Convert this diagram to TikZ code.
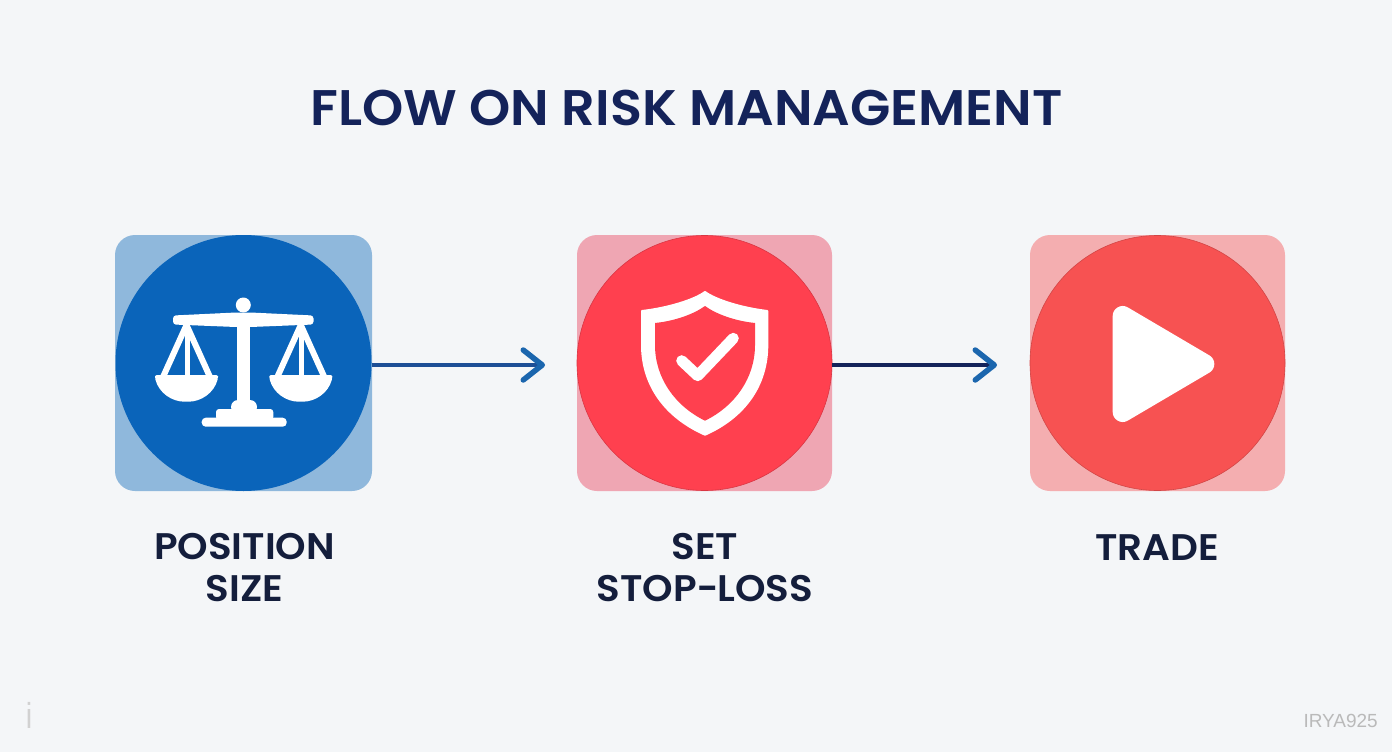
\documentclass[tikz,border=0pt]{standalone}
\usepackage{fontspec}
\usepackage{graphicx}
\usetikzlibrary{arrows.meta}
\setmainfont{Poppins SemiBold}[FakeStretch=1.05]
\newfontfamily\markfont{Liberation Sans}
\definecolor{bgcol}{HTML}{F4F6F8}
\definecolor{titlecol}{HTML}{14235A}
\definecolor{labelcol}{HTML}{141E3C}
\definecolor{sqblue}{HTML}{8FB8DC}
\definecolor{cblue}{HTML}{0A64BA}
\definecolor{sqrose}{HTML}{EFA6B3}
\definecolor{crose}{HTML}{FF404F}
\definecolor{sqcoral}{HTML}{F4AEB0}
\definecolor{ccoral}{HTML}{F75252}
\definecolor{tipcol}{HTML}{1B66AE}
\definecolor{lineone}{HTML}{1D4F96}
\tikzset{
  tile/.style={rectangle,rounded corners=20pt,minimum width=#1,minimum height=256pt,inner sep=0pt,outer sep=0pt},
  disc/.style={circle,minimum size=#1,inner sep=0pt,outer sep=0pt},
  caption/.style={anchor=base,align=center,inner sep=0pt,text=labelcol,font=\fontsize{37}{42}\selectfont},
  flow/.style={line width=4pt,-{Straight Barb[length=19pt,width=30pt,line width=5.5pt,round,color=tipcol]}},
  icon/.style={fill=white,draw=none},
  iconline/.style={draw=white,line cap=round,line join=round}
}
\begin{document}
\begin{tikzpicture}[x=1pt,y=-1pt]
\useasboundingbox (0,0) rectangle (1392,752);
\fill[bgcol] (0,0) rectangle (1392,752);
% title
\node[anchor=base,inner sep=0pt,text=titlecol,font=\fontsize{50}{50}\selectfont] (title) at (686.5,125.5) {FLOW ON RISK MANAGEMENT};
% tiles
\node[tile=257pt,fill=sqblue] (s1) at (243.5,363) {};
\node[disc=256pt,fill=cblue] (c1) at (243.5,363) {};
\node[tile=255pt,fill=sqrose] (s2) at (704.5,363) {};
\node[disc=255pt,fill=crose,draw=crose!85!black,line width=.6pt] (c2) at (704.5,363) {};
\node[tile=255pt,fill=sqcoral] (s3) at (1157.5,363) {};
\node[disc=255pt,fill=ccoral,draw=ccoral!85!black,line width=.6pt] (c3) at (1157.5,363) {};
% connectors
\coordinate (t1) at (545,365);
\coordinate (t2) at (997,365);
\draw[flow,color=lineone] (372,365) -- (t1);
\draw[flow,color=titlecol] (832,365) -- (t2);
% scales icon
\fill[icon] (243.3,305) circle (7.5pt);
\fill[icon,rounded corners=3pt] (173,315.5) -- (236,312.5) -- (250.5,312.5) -- (313.5,315.5) -- (313.5,324.5) -- (250.5,327) -- (236,327) -- (173,324.5) -- cycle;
\fill[icon] (236.7,325) rectangle (250,405);
\fill[icon,rounded corners=7pt] (231,400) rectangle (257,414);
\fill[icon,rounded corners=3pt] (216,409) rectangle (273.3,420);
\fill[icon,rounded corners=4pt] (201.7,417.7) rectangle (286.7,426.7);
\foreach \dx in {0,114.3}{
  \begin{scope}[xshift=\dx pt]
    \draw[iconline,line width=6pt] (163,377) -- (186.5,325) -- (210,377);
    \draw[iconline,line width=5pt,line cap=butt] (187,325) -- (187,377);
    \fill[icon,rounded corners=2pt] (155,375) -- (218,375) -- (218,378) .. controls (214,393) and (201,401.7) .. (186.5,401.7) .. controls (172,401.7) and (159,393) .. (155,378) -- cycle;
  \end{scope}
}
% shield icon
\filldraw[iconline,fill=white,line width=2pt] (705,292) .. controls (694,300) and (668,308) .. (642,311)
  -- (642,345) .. controls (642,385) and (665,417) .. (705,434.7)
  .. controls (745,417) and (767.3,385) .. (767.3,345) -- (767.3,311)
  .. controls (742,308) and (716,300) .. cycle;
\fill[crose] (705,306) .. controls (694,314) and (675,321) .. (655,323)
  -- (655,345) .. controls (655,378) and (675,406) .. (705,420.7)
  .. controls (735,406) and (755,378) .. (755,345) -- (755,323)
  .. controls (735,321) and (716,314) .. cycle;
\draw[iconline,line width=11pt] (681.7,360.7) -- (697.7,375.7) -- (733.3,338.3);
% play icon
\filldraw[iconline,fill=white,line width=20pt] (1122.7,316) -- (1204.3,364) -- (1122.7,412) -- cycle;
% captions
\node[caption] (l1) at (244.5,601) {POSITION\\SIZE};
\node[caption] (l2) at (705,601) {SET\\STOP\scalebox{0.75}[1]{–}LOSS};
\node[caption] (l3) at (1157,560) {TRADE};
% marks
\node[anchor=base east,inner sep=0pt,text=black!27,font=\markfont\fontsize{19}{19}\selectfont] (wm) at (1378,727) {IRYA925};
\node[anchor=base,inner sep=0pt,text=black!18,font=\markfont\fontsize{36}{36}\selectfont] (im) at (29,728) {\scalebox{0.8}[1]{i}};
\end{tikzpicture}
\end{document}
